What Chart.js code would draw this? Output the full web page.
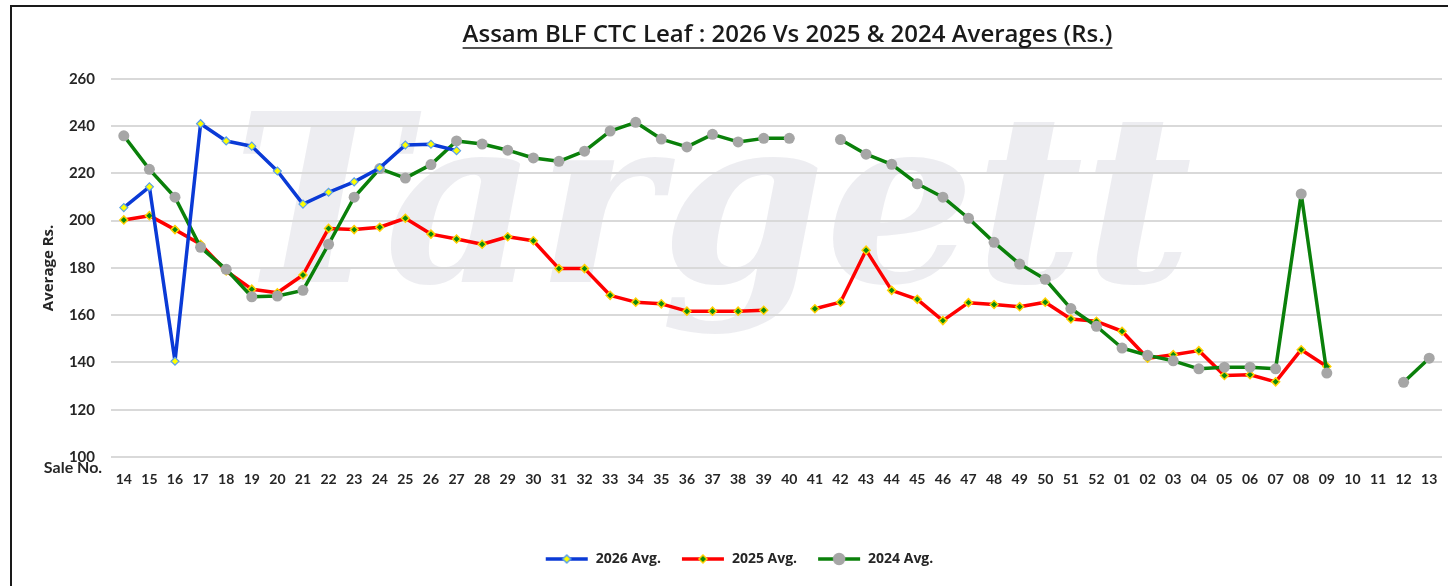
<!DOCTYPE html>
<html>
<head>
<meta charset="utf-8">
<script src="https://cdn.jsdelivr.net/npm/chart.js@4.4.1/dist/chart.umd.min.js"></script>
<style>
  html, body { margin: 0; padding: 0; background: #fff; }
</style>
</head>
<body>
<canvas id="myChart" width="1448" height="586"></canvas>
<script>
// sale numbers (season runs 14 .. 52 then 01 .. 13)
var saleNos = ['14','15','16','17','18','19','20','21','22','23','24','25','26','27','28','29','30','31','32','33',
  '34','35','36','37','38','39','40','41','42','43','44','45','46','47','48','49','50','51','52',
  '01','02','03','04','05','06','07','08','09','10','11','12','13'];

var avg2026 = [205.5, 214.3, 140.5, 241, 233.7, 231.5, 221, 207, 212, 216.4, 222.3, 232, 232.3, 229.6,
  null, null, null, null, null, null, null, null, null, null, null, null, null, null, null, null, null, null, null,
  null, null, null, null, null, null, null, null, null, null, null, null, null, null, null, null, null, null, null];

var avg2025 = [200.3, 202.1, 196.2, 190, 178.7, 171, 169.5, 177, 196.7, 196.2, 197.2, 201, 194.3, 192.2,
  190, 193.2, 191.5, 179.7, 179.7, 168.4, 165.5, 164.8, 161.7, 161.7, 161.7, 162.1, null,
  162.7, 165.5, 187.5, 170.5, 166.7, 157.7, 165.3, 164.5, 163.6, 165.5, 158.4, 157.4,
  153.2, 141.8, 143.3, 145, 134.5, 134.8, 131.8, 145.4, 138.3, null, null, null, null];

var avg2024 = [235.9, 221.7, 209.9, 188.7, 179.4, 167.8, 168.1, 170.5, 190, 209.9, 222, 218, 223.7, 233.7,
  232.4, 229.8, 226.5, 225.1, 229.4, 237.9, 241.6, 234.5, 231.2, 236.5, 233.3, 234.8, 234.8,
  null, 234.3, 228.1, 223.8, 215.6, 209.9, 201, 190.8, 181.6, 175.2, 162.8, 155.3,
  146.1, 143, 140.7, 137.3, 138, 138, 137.3, 211.3, 135.5, null, null, 131.6, 141.8];

var yTicks = [100, 120, 140, 160, 180, 200, 220, 240, 260];

var FONT = 'Lato, "Open Sans", sans-serif';
var FONT2 = '"Open Sans", Lato, sans-serif';
var TITLE = 'Assam BLF CTC Leaf : 2026 Vs 2025 & 2024 Averages (Rs.)';

// small line+marker icons for the legend (like Excel)
function legendIcon(lineColor, shape, fill, stroke, r) {
  var c = document.createElement('canvas');
  c.width = 44; c.height = 14;
  var g = c.getContext('2d');
  g.strokeStyle = lineColor;
  g.lineWidth = 3.5;
  g.beginPath(); g.moveTo(1, 7); g.lineTo(43, 7); g.stroke();
  g.fillStyle = fill;
  g.strokeStyle = stroke;
  g.lineWidth = 1.5;
  g.beginPath();
  if (shape === 'circle') {
    g.arc(22, 7, r, 0, Math.PI * 2);
  } else {
    g.moveTo(22, 7 - r); g.lineTo(22 + r, 7); g.lineTo(22, 7 + r); g.lineTo(22 - r, 7); g.closePath();
  }
  g.fill();
  g.stroke();
  return c;
}
var icons = [
  legendIcon('#0a3ad6', 'diamond', '#ffff00', '#5aa0e8', 4),
  legendIcon('#ff0000', 'diamond', '#0a8a0a', '#ffd000', 4),
  legendIcon('#0a800a', 'circle', '#a6a6a6', '#a6a6a6', 5.5)
];

var extras = {
  id: 'extras',
  afterLayout: function(chart) {
    // nudge title and legend to where the original sits
    chart.titleBlock.left += 11; chart.titleBlock.right += 11;
    chart.legend.left += 18; chart.legend.right += 18;
  },
  beforeDraw: function(chart) {
    var ctx = chart.ctx;
    ctx.save();
    // faint watermark
    ctx.fillStyle = 'rgba(200,200,212,0.33)';
    ctx.font = 'bold italic 235px "DejaVu Serif", serif';
    ctx.textBaseline = 'alphabetic';
    var w = ctx.measureText('Targett').width;
    ctx.translate(232, 282);
    ctx.scale(960 / w, 1);
    ctx.fillText('Targett', 0, 0);
    ctx.restore();
  },
  afterDraw: function(chart) {
    var ctx = chart.ctx;
    ctx.save();
    // frame (left and top)
    ctx.strokeStyle = '#1a1a1a';
    ctx.lineWidth = 2;
    ctx.beginPath();
    ctx.moveTo(11, 586); ctx.lineTo(11, 6); ctx.lineTo(1448, 6);
    ctx.stroke();
    // underline for title
    var tb = chart.titleBlock;
    ctx.font = '600 24px ' + FONT2;
    var tw = ctx.measureText(TITLE).width;
    var cx = tb.left + tb.width / 2;
    ctx.strokeStyle = '#1a1a1a';
    ctx.lineWidth = 1.5;
    ctx.beginPath();
    ctx.moveTo(cx - tw / 2, 48); ctx.lineTo(cx + tw / 2, 48);
    ctx.stroke();
    // "Sale No." caption left of the category labels
    ctx.fillStyle = '#262626';
    ctx.font = 'bold 16px ' + FONT;
    ctx.textAlign = 'center';
    ctx.textBaseline = 'middle';
    ctx.fillText('Sale No.', 73, 468);
    ctx.restore();
  }
};

var ctx = document.getElementById('myChart').getContext('2d');
var chart = new Chart(ctx, {
  type: 'line',
  data: {
    labels: saleNos,
    datasets: [{
      label: '2026 Avg.',
      data: avg2026,
      order: 0,
      borderColor: '#0a3ad6',
      borderWidth: 3.5,
      borderJoinStyle: 'round',
      pointStyle: 'rectRot',
      pointRadius: 4,
      pointBackgroundColor: '#ffff00',
      pointBorderColor: '#5aa0e8',
      pointBorderWidth: 1.2,
      tension: 0
    }, {
      label: '2025 Avg.',
      data: avg2025,
      order: 2,
      borderColor: '#ff0000',
      borderWidth: 3.5,
      borderJoinStyle: 'round',
      pointStyle: 'rectRot',
      pointRadius: 4,
      pointBackgroundColor: '#0a8a0a',
      pointBorderColor: '#ffd000',
      pointBorderWidth: 1.5,
      tension: 0
    }, {
      label: '2024 Avg.',
      data: avg2024,
      order: 1,
      borderColor: '#0a800a',
      borderWidth: 3.5,
      borderJoinStyle: 'round',
      pointStyle: 'circle',
      pointRadius: 5.5,
      pointBackgroundColor: '#a6a6a6',
      pointBorderColor: '#a6a6a6',
      pointBorderWidth: 0,
      tension: 0
    }]
  },
  options: {
    responsive: false,
    animation: false,
    spanGaps: false,
    layout: { padding: { left: 0, right: 6, top: 0, bottom: 10 } },
    plugins: {
      title: {
        display: true,
        fullSize: false,
        text: TITLE,
        color: '#1a1a1a',
        font: { family: FONT2, size: 24, weight: '600' },
        padding: { top: 21, bottom: 29 }
      },
      legend: {
        position: 'bottom',
        labels: {
          usePointStyle: true,
          pointStyleWidth: 44,
          boxHeight: 14,
          padding: 20,
          color: '#262626',
          font: { family: FONT2, size: 14, weight: 'bold' },
          generateLabels: function(chart) {
            var items = Chart.defaults.plugins.legend.labels.generateLabels(chart);
            items.sort(function(a, b) { return a.datasetIndex - b.datasetIndex; });
            items.forEach(function(it) { it.pointStyle = icons[it.datasetIndex]; });
            return items;
          }
        }
      },
      tooltip: { enabled: false }
    },
    scales: {
      x: {
        offset: true,
        grid: { display: false },
        border: { display: false },
        afterFit: function(scale) { scale.height = 75; },
        ticks: {
          autoSkip: false,
          maxRotation: 0,
          padding: 6,
          color: '#262626',
          font: { family: FONT, size: 14, weight: 'bold' }
        }
      },
      y: {
        min: 100,
        max: 260,
        afterFit: function(scale) { scale.width = 111; },
        afterBuildTicks: function(scale) {
          scale.ticks = yTicks.map(function(v) { return { value: v }; });
        },
        grid: { color: '#d9d9d9', lineWidth: 2, drawTicks: false },
        border: { display: false },
        ticks: {
          padding: 16,
          color: '#262626',
          font: { family: FONT, size: 15, weight: 'bold' }
        },
        title: {
          display: true,
          text: 'Average Rs.',
          color: '#262626',
          font: { family: FONT2, size: 15, weight: 'bold' },
          padding: { top: 40, bottom: 0 }
        }
      }
    }
  },
  plugins: [extras]
});
</script>
</body>
</html>
